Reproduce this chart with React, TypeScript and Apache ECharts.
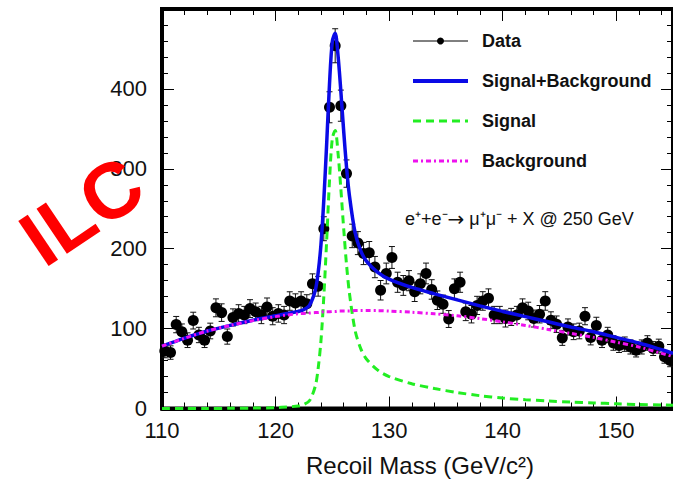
import React, { useEffect, useRef } from 'react';
import * as echarts from 'echarts';

// Data histogram: bin centres (GeV) and counts
const binCenters = [
  110.25, 110.75, 111.25, 111.75, 112.25, 112.75, 113.25, 113.75, 114.25, 114.75,
  115.25, 115.75, 116.25, 116.75, 117.25, 117.75, 118.25, 118.75, 119.25, 119.75,
  120.25, 120.75, 121.25, 121.75, 122.25, 122.75, 123.25, 123.75, 124.25, 124.75,
  125.25, 125.75, 126.25, 126.75, 127.25, 127.75, 128.25, 128.75, 129.25, 129.75,
  130.25, 130.75, 131.25, 131.75, 132.25, 132.75, 133.25, 133.75, 134.25, 134.75,
  135.25, 135.75, 136.25, 136.75, 137.25, 137.75, 138.25, 138.75, 139.25, 139.75,
  140.25, 140.75, 141.25, 141.75, 142.25, 142.75, 143.25, 143.75, 144.25, 144.75,
  145.25, 145.75, 146.25, 146.75, 147.25, 147.75, 148.25, 148.75, 149.25, 149.75,
  150.25, 150.75, 151.25, 151.75, 152.25, 152.75, 153.25, 153.75, 154.25, 154.75,
];
const dataCounts = [
  72, 70, 105, 96, 85.5, 110, 92, 85.5, 97, 126,
  120, 90, 114, 119, 117, 125, 121, 117, 127, 115.5,
  119, 117, 134.5, 132, 134.5, 131, 156, 153, 225, 377,
  454, 379, 294, 216, 207, 194, 195, 177, 148, 169,
  189, 158, 154, 160, 146, 156, 169, 149, 135.5, 130.5,
  112, 150, 158, 121, 118, 129, 134.6, 138, 117, 117,
  112.6, 114.6, 117, 126, 122, 112.6, 118, 134.6, 110.5, 105.5,
  88.4, 102, 96, 97, 115.5, 89, 104, 85.5, 92, 82,
  79, 80.5, 77, 73, 77, 82, 75, 78, 64.7, 60,
];
const dataErrors = [
  8.5, 8.4, 10.2, 9.8, 9.2, 10.5, 9.6, 9.2, 9.8, 11.2,
  11, 9.5, 10.7, 10.9, 10.8, 11.2, 11, 10.8, 11.3, 10.7,
  10.9, 10.8, 11.6, 11.5, 11.6, 11.4, 12.5, 12.4, 15, 19.4,
  21.3, 19.5, 17.1, 14.7, 14.4, 13.9, 14, 13.3, 12.2, 13,
  13.7, 12.6, 12.4, 12.6, 12.1, 12.5, 13, 12.2, 11.6, 11.4,
  10.6, 12.2, 12.6, 11, 10.9, 11.4, 11.6, 11.7, 10.8, 10.8,
  10.6, 10.7, 10.8, 11.2, 11, 10.6, 10.9, 11.6, 10.5, 10.3,
  9.4, 10.1, 9.8, 9.8, 10.7, 9.4, 10.2, 9.2, 9.6, 9.1,
  8.9, 9, 8.8, 8.5, 8.8, 9.1, 8.7, 8.8, 8, 7.7,
];

// Fitted curves
const curveMass = [
  110, 112, 114, 116, 118, 120, 121, 122, 122.5, 123,
  123.5, 123.75, 124, 124.25, 124.5, 124.75, 125, 125.25, 125.5, 125.75,
  126, 126.25, 126.5, 127, 127.5, 128, 129, 130, 132, 134,
  136, 138, 140, 142, 144, 146, 148, 150, 152, 154, 155,
];
const backgroundCurve = [
  78, 88, 97, 104, 110, 115, 117, 118.5, 119, 119.5,
  120, 120, 120.5, 121, 121, 121, 121.5, 121.5, 122, 122,
  122, 122, 122, 122.5, 122.5, 122.5, 122.5, 122, 120.5, 118.5,
  116, 112.5, 108.5, 104, 99, 94, 89, 83, 77, 69, 65,
];
const signalCurve = [
  0, 0, 0, 0.2, 0.5, 1, 2, 3, 5, 10,
  28, 50, 85, 140, 210, 285, 338, 348, 320, 275,
  225, 180, 145, 98, 75, 62, 48, 40, 31, 25,
  20, 16, 13, 11, 9.5, 8, 7, 6, 5, 4.5, 4,
];
const totalCurve = [
  78, 88, 97, 104, 110.5, 116, 119, 121.5, 124, 129.5,
  148, 170, 205.5, 261, 331, 406, 459.5, 469.5, 442, 397,
  347, 302, 267, 220.5, 197.5, 184.5, 170.5, 162, 151.5, 143.5,
  136, 128.5, 121.5, 115, 108.5, 102, 96, 89, 82, 73.5, 69,
];

const xTicks = { min: 110, max: 155, step: 10 };
const yTicks = { min: 0, max: 500, step: 100 };

const legendLabels = ['Data', 'Signal+Background', 'Signal', 'Background'];
const processPre = 'e\u207A+e\u207B';
const processArrow = '\u2192';
const processPost = ' \u03BC\u207A\u03BC\u207B + X @ 250 GeV';
const xTitle = 'Recoil Mass (GeV/c\u00B2)';
const logoText = 'ILC';

const FONT = "'Liberation Sans', Arial, Helvetica, sans-serif";
const BLUE = '#0a0ae6';
const GREEN = '#22ee22';
const MAGENTA = '#ee11ee';

const GRID = { left: 162, top: 9, width: 513, height: 399.5 };

export default function App() {
  const ref = useRef<HTMLDivElement>(null);
  useEffect(() => {
    if (!ref.current) return;
    const chart = echarts.init(ref.current, null, { renderer: 'svg' });

    const pair = (xs: number[], ys: number[]) => xs.map((x, i) => [x, ys[i]]);
    const axisCommon = {
      type: 'value' as const,
      splitLine: { show: false },
      axisLine: { show: true, onZero: false, lineStyle: { color: '#000', width: 4 } },
      axisTick: { show: true, inside: true, length: 12, lineStyle: { color: '#000', width: 1 } },
      minorTick: { show: true, splitNumber: 5, length: 6, lineStyle: { color: '#000', width: 1 } },
    };

    const legendY = [41, 81, 121, 161];
    const lx1 = 413, lx2 = 468, tx = 482;
    const legendGraphics: any[] = [
      { type: 'line', shape: { x1: lx1, y1: legendY[0], x2: lx2, y2: legendY[0] }, style: { stroke: '#000', lineWidth: 1 } },
      { type: 'circle', shape: { cx: (lx1 + lx2) / 2, cy: legendY[0], r: 3.5 }, style: { fill: '#000' } },
      { type: 'line', shape: { x1: lx1, y1: legendY[1], x2: lx2, y2: legendY[1] }, style: { stroke: BLUE, lineWidth: 4 } },
      { type: 'line', shape: { x1: lx1, y1: legendY[2], x2: lx2, y2: legendY[2] }, style: { stroke: GREEN, lineWidth: 3, lineDash: [8, 5] } },
      { type: 'line', shape: { x1: lx1, y1: legendY[3], x2: lx2, y2: legendY[3] }, style: { stroke: MAGENTA, lineWidth: 3, lineDash: [5, 3, 2, 3] } },
    ];
    legendLabels.forEach((t, i) => {
      legendGraphics.push({
        type: 'text', x: tx, y: legendY[i],
        style: { text: t, fill: '#111', fontSize: 18, fontWeight: 'bold', fontFamily: FONT, align: 'left', verticalAlign: 'middle' },
      });
    });

    chart.setOption({
      animation: false,
      backgroundColor: '#fff',
      grid: { ...GRID, containLabel: false },
      xAxis: [
        {
          ...axisCommon, position: 'bottom', min: xTicks.min, max: xTicks.max, interval: xTicks.step,
          axisLabel: { fontSize: 22, color: '#111', fontFamily: FONT, margin: 11, showMaxLabel: false },
        },
        {
          ...axisCommon, position: 'top', min: xTicks.min, max: xTicks.max, interval: xTicks.step,
          axisLabel: { show: false },
        },
      ],
      yAxis: [
        {
          ...axisCommon, position: 'left', min: yTicks.min, max: yTicks.max, interval: yTicks.step,
          axisLabel: { fontSize: 22, color: '#111', fontFamily: FONT, margin: 15, showMaxLabel: false },
        },
        {
          ...axisCommon, position: 'right', min: yTicks.min, max: yTicks.max, interval: yTicks.step,
          axisLabel: { show: false },
        },
      ],
      series: [
        {
          type: 'custom',
          name: 'errors',
          z: 2,
          data: binCenters.map((x, i) => [x, dataCounts[i], dataErrors[i]]),
          renderItem: (params: any, api: any) => {
            const x = api.value(0), y = api.value(1), e = api.value(2);
            const top = api.coord([x, y + e]);
            const bot = api.coord([x, y - e]);
            const hw = 3;
            const st = { stroke: '#111', lineWidth: 1 };
            return {
              type: 'group',
              children: [
                { type: 'line', shape: { x1: top[0], y1: top[1], x2: bot[0], y2: bot[1] }, style: st },
                { type: 'line', shape: { x1: top[0] - hw, y1: top[1], x2: top[0] + hw, y2: top[1] }, style: st },
                { type: 'line', shape: { x1: bot[0] - hw, y1: bot[1], x2: bot[0] + hw, y2: bot[1] }, style: st },
              ],
            };
          },
        },
        {
          type: 'scatter', name: 'Data', z: 3,
          symbol: 'circle', symbolSize: 11,
          itemStyle: { color: '#000', opacity: 1 },
          data: pair(binCenters, dataCounts),
        },
        {
          type: 'line', name: 'Signal', z: 4, smooth: 0.3, symbol: 'none',
          lineStyle: { color: GREEN, width: 3, type: [8, 5] },
          data: pair(curveMass, signalCurve),
        },
        {
          type: 'line', name: 'Signal+Background', z: 5, smooth: 0.3, symbol: 'none',
          lineStyle: { color: BLUE, width: 3.5 },
          data: pair(curveMass, totalCurve),
        },
        {
          type: 'line', name: 'Background', z: 6, smooth: 0.3, symbol: 'none',
          lineStyle: { color: MAGENTA, width: 3, type: [5, 3, 2, 3] },
          data: pair(curveMass, backgroundCurve),
        },
      ],
      graphic: [
        {
          type: 'rect', z: 0, silent: true,
          shape: { x: GRID.left, y: GRID.top, width: GRID.width, height: GRID.height },
          style: { fill: 'none', stroke: '#000', lineWidth: 4 },
        },
        ...legendGraphics,
        {
          type: 'text', x: 405, y: 219,
          style: {
            text: `{a|${processPre}}{b|${processArrow}}{a|${processPost}}`,
            fill: '#111', fontSize: 18, fontFamily: FONT, align: 'left', verticalAlign: 'middle',
            rich: {
              a: { fontSize: 18, fontFamily: FONT, fill: '#111' },
              b: { fontSize: 20, fontFamily: "'DejaVu Sans', sans-serif", fill: '#111' },
            },
          },
        },
        {
          type: 'text', x: 420, y: 465,
          style: { text: xTitle, fill: '#111', fontSize: 24, fontFamily: FONT, align: 'center', verticalAlign: 'middle' },
        },
        {
          type: 'text', x: 82, y: 211, rotation: 34 * Math.PI / 180, z: 100,
          style: { text: logoText, fill: '#ff0000', fontSize: 79, fontWeight: 'bold', fontFamily: FONT, align: 'center', verticalAlign: 'middle' },
        },
      ],
    });
    return () => chart.dispose();
  }, []);

  return (
    <div
      ref={ref}
      style={{ position: 'absolute', left: 0, top: 0, width: 673, height: 482, background: '#fff' }}
    />
  );
}
